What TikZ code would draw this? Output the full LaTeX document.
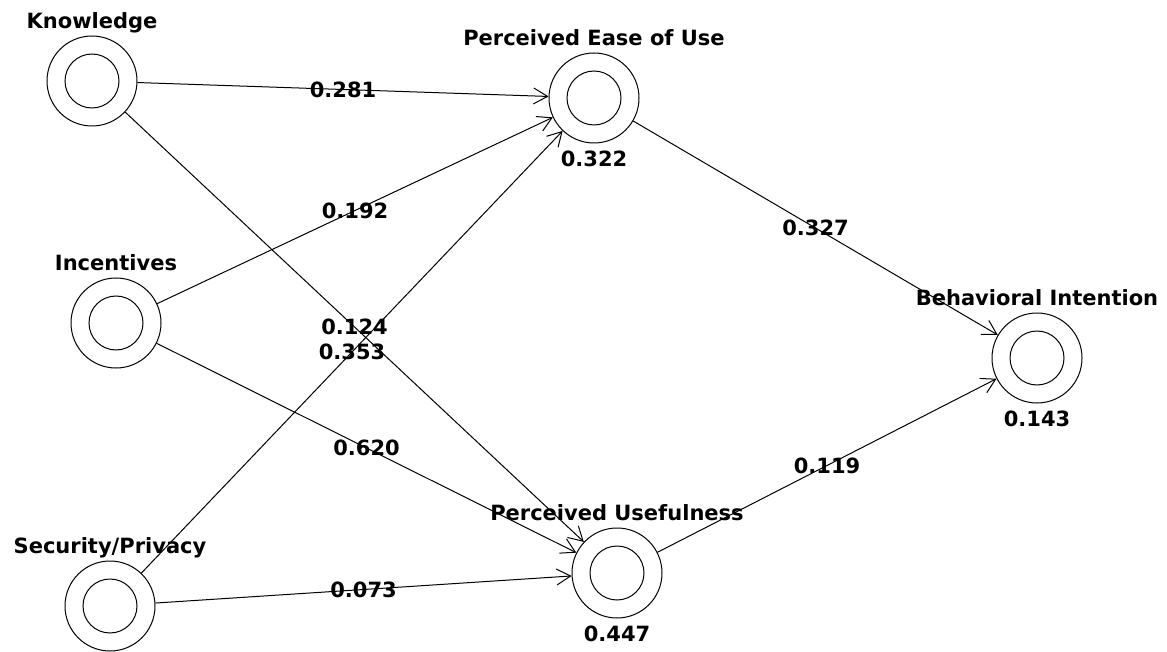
\documentclass[tikz,border=0pt]{standalone}
\usepackage{fontspec}
\setmainfont{DejaVu Sans}
\usetikzlibrary{arrows.meta,positioning}

\begin{document}
\begin{tikzpicture}[x=1pt,y=-1pt,line width=1pt,
    construct/.style={circle,draw,minimum size=90pt,inner sep=0pt,
      path picture={\draw[line width=1pt] (path picture bounding box.center) circle (27pt);}},
    title/.style={font=\fontsize{21}{24}\selectfont\bfseries,inner sep=0pt},
    value/.style={font=\fontsize{21}{24}\selectfont\bfseries,inner sep=0pt},
    link/.style={-{Straight Barb[length=14pt,width=16pt]}}]
    %
    \useasboundingbox (0,0) rectangle (1167,652);
    %
    \node[construct] (know) at (92,81) {};
    \node[construct] (incent) at (116,323) {};
    \node[construct] (secur) at (110,606) {};
    \node[construct] (peou) at (594,98) {};
    \node[construct] (pu) at (617,573) {};
    \node[construct] (bi) at (1037,358) {};
    %
    \node[title,above=7pt of know,anchor=base] (knowT) {Knowledge};
    \node[title,above=7pt of incent,anchor=base] (incentT) {Incentives};
    \node[title,above=7pt of secur,anchor=base] (securT) {Security/Privacy};
    \node[title,above=7pt of peou,anchor=base] (peouT) {Perceived Ease of Use};
    \node[title,above=7pt of pu,anchor=base] (puT) {Perceived Usefulness};
    \node[title,above=7pt of bi,anchor=base] (biT) {Behavioral Intention};
    %
    \node[value,below=7pt of peou] (peouR) {0.322};
    \node[value,below=7pt of pu] (puR) {0.447};
    \node[value,below=7pt of bi] (biR) {0.143};
    %
    \draw[link] (know) -- (peou) node[value,midway] {0.281};
    \draw[link] (know) -- (pu) node[value,midway] {0.124};
    \draw[link] (incent) -- (peou) node[value,midway] {0.192};
    \draw[link] (incent) -- (pu) node[value,midway] {0.620};
    \draw[link] (secur) -- (peou) node[value,midway] {0.353};
    \draw[link] (secur) -- (pu) node[value,midway] {0.073};

    \draw[link] (peou) -- (bi) node[value,midway] {0.327};
    \draw[link] (pu) -- (bi) node[value,midway] {0.119};
    %
\end{tikzpicture}
\end{document}
